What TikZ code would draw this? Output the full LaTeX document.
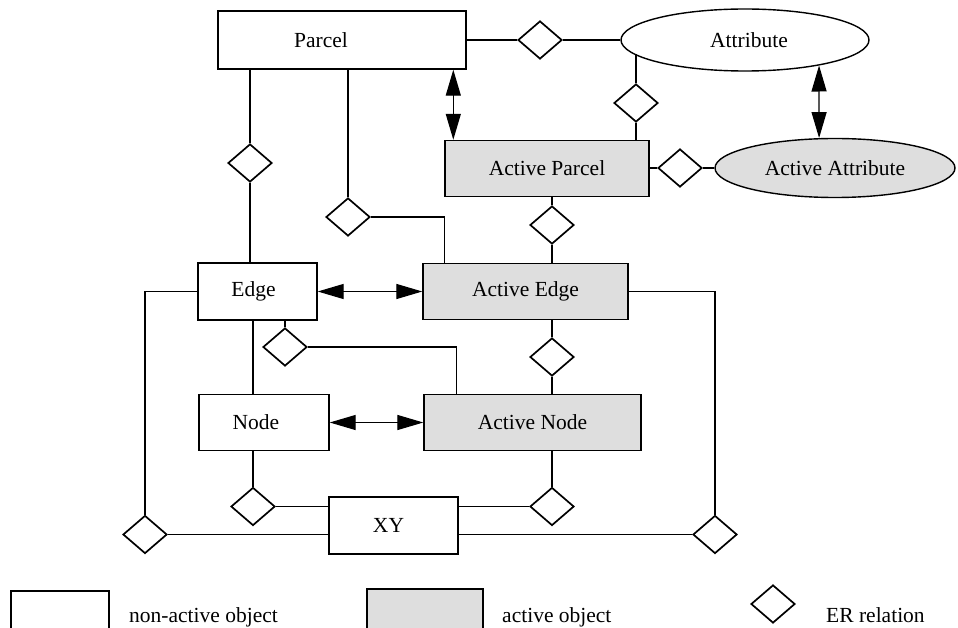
\documentclass[tikz,border=0pt]{standalone}
\usepackage{fontspec}
\setmainfont{Liberation Serif}
\usetikzlibrary{arrows.meta,shapes.geometric}
\begin{document}
\begin{tikzpicture}[x=1pt,y=-1pt,
  every node/.style={font=\fontsize{21.5}{26}\selectfont},
  plainobj/.style={draw,line width=1.4pt,rectangle,inner sep=0pt,fill=white},
  activeobj/.style={plainobj,fill=black!13},
  plainell/.style={draw,line width=1.4pt,ellipse,inner sep=0pt,fill=white},
  activeell/.style={plainell,fill=black!13},
  rel/.style={draw,line width=1.7pt,diamond,inner sep=0pt,minimum width=44pt,minimum height=38pt,fill=white},
  conn/.style={line width=1.3pt},
  dbl/.style={line width=1.3pt,{Triangle[length=26pt,width=15pt]}-{Triangle[length=26pt,width=15pt]}},
  lbl/.style={anchor=base west,inner sep=0pt}
]
\clip (0,0) rectangle (958,628);
\fill[white] (0,0) rectangle (958,628);

% objects
\node[plainobj,minimum width=248pt,minimum height=58pt] (Parcel) at (342,40) {Parcel\hspace*{42pt}};
\node[plainell,minimum width=248pt,minimum height=62pt] (Attr) at (745,40) {\hspace*{8pt}Attribute};
\node[activeobj,minimum width=204pt,minimum height=56pt] (APar) at (547,168.5) {Active Parcel};
\node[activeell,minimum width=240pt,minimum height=59pt] (AAttr) at (835,168) {Active Attribute};
\node[plainobj,minimum width=119pt,minimum height=57pt] (Edge) at (257.5,291.5) {Edge\hspace*{8pt}};
\node[activeobj,minimum width=205pt,minimum height=56pt] (AEdge) at (525.5,291.5) {Active Edge};
\node[plainobj,minimum width=130pt,minimum height=56pt] (Node) at (264,422.5) {Node\hspace*{16pt}};
\node[activeobj,minimum width=217pt,minimum height=56pt] (ANode) at (532.5,422.5) {Active Node};
\node[plainobj,minimum width=129pt,minimum height=57pt] (XY) at (393.5,525.5) {XY\hspace*{10pt}};

% relations
\node[rel] (d1) at (540,40) {};
\node[rel] (d2) at (250,163) {};
\node[rel] (d3) at (348,217) {};
\node[rel] (d4) at (636,103) {};
\node[rel] (d5) at (680,168) {};
\node[rel] (d6) at (552,225) {};
\node[rel] (d7) at (285,347) {};
\node[rel] (d8) at (552,357) {};
\node[rel] (d9) at (253,506.5) {};
\node[rel] (d10) at (552,506.5) {};
\node[rel] (d11) at (145,534.5) {};
\node[rel] (d12) at (715,534.5) {};

% helper coordinates
\coordinate (pa) at ([xshift=9pt]APar.north west);
\coordinate (ae) at ([xshift=22pt]AEdge.north west);
\coordinate (an) at ([xshift=33pt]ANode.north west);

% connectors
\draw[conn] (Parcel.east) -- (d1.west);
\draw[conn] (d1.east) -- (Attr.west);
\draw[conn] (Parcel.south -| d2) -- (d2.north);
\draw[conn] (d2.south) -- (Edge.north -| d2);
\draw[conn] (Parcel.south -| d3) -- (d3.north);
\draw[conn] (d3.east) -| (ae);
\draw[dbl] (pa |- Parcel.south) -- (pa);
\draw[conn] (d4 |- Attr.187.7) -- (d4.north);
\draw[conn] (d4.south) -- (APar.north -| d4);
\draw[dbl] (Attr.341.4) -- (AAttr.118.7);
\draw[conn] (APar.east |- d5) -- (d5.west);
\draw[conn] (d5.east) -- (AAttr.west);
\draw[conn] (APar.south -| d6) -- (d6.north);
\draw[conn] (d6.south) -- (AEdge.north -| d6);
\draw[dbl] (Edge.east) -- (AEdge.west);
\draw[conn] (Edge.south -| d7) -- (d7.north);
\draw[conn] (d7.east) -| (an);
\draw[conn] (AEdge.south -| d8) -- (d8.north);
\draw[conn] (d8.south) -- (ANode.north -| d8);
\draw[conn] (Edge.south -| d9) -- (Node.north -| d9);
\draw[dbl] (Node.east) -- (ANode.west);
\draw[conn] (Node.south -| d9) -- (d9.north);
\draw[conn] (d9.east) -- (XY.west |- d9);
\draw[conn] (ANode.south -| d10) -- (d10.north);
\draw[conn] (d10.west) -- (XY.east |- d10);
\draw[conn] (Edge.west) -| (d11.north);
\draw[conn] (d11.east) -- (XY.west |- d11);
\draw[conn] (AEdge.east) -| (d12.north);
\draw[conn] (d12.west) -- (XY.east |- d12);

% legend
\draw[line width=1.4pt] (11,640) -- (11,591) -- (109,591) -- (109,640);
\filldraw[fill=black!13,line width=1.4pt] (367,640) -- (367,589) -- (483,589) -- (483,640);
\node[rel] (lgd) at (773,604) {};
\node[lbl] (l1) at (129,622) {non-active object};
\node[lbl] (l2) at (502,622) {active object};
\node[lbl] (l3) at (826,622) {ER relation};
\end{tikzpicture}
\end{document}
